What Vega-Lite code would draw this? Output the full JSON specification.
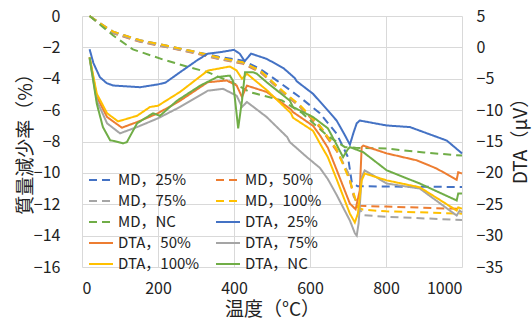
{
  "$schema": "https://vega.github.io/schema/vega-lite/v6.json",
  "width": 380,
  "height": 251,
  "autosize": {"type": "none"},
  "padding": {"left": 82, "top": 16, "right": 70, "bottom": 58},
  "config": {
    "font": "Noto Sans CJK JP",
    "view": {"stroke": null},
    "axis": {
      "gridColor": "#D9D9D9",
      "gridWidth": 1,
      "domain": false,
      "ticks": false,
      "tickSize": 0,
      "labelFontSize": 16,
      "labelColor": "#222",
      "titleFontSize": 19,
      "titleFontWeight": "normal",
      "titleColor": "#222"
    }
  },
  "datasets": {
    "md": [
      {"s": "MD，25%", "x": 20, "v": 0}, {"s": "MD，25%", "x": 50, "v": -0.5}, {"s": "MD，25%", "x": 82, "v": -1.0}, {"s": "MD，25%", "x": 153, "v": -1.55}, {"s": "MD，25%", "x": 224, "v": -1.9}, {"s": "MD，25%", "x": 302, "v": -2.3}, {"s": "MD，25%", "x": 360, "v": -2.6}, {"s": "MD，25%", "x": 424, "v": -2.85}, {"s": "MD，25%", "x": 468, "v": -3.36}, {"s": "MD，25%", "x": 512, "v": -4.1}, {"s": "MD，25%", "x": 573, "v": -5.17}, {"s": "MD，25%", "x": 626, "v": -6.2}, {"s": "MD，25%", "x": 670, "v": -7.5}, {"s": "MD，25%", "x": 700, "v": -9.0}, {"s": "MD，25%", "x": 710, "v": -10.6}, {"s": "MD，25%", "x": 725, "v": -10.85}, {"s": "MD，25%", "x": 800, "v": -10.87}, {"s": "MD，25%", "x": 1000, "v": -10.9},
      {"s": "MD，50%", "x": 20, "v": 0}, {"s": "MD，50%", "x": 50, "v": -0.55}, {"s": "MD，50%", "x": 82, "v": -1.1}, {"s": "MD，50%", "x": 153, "v": -1.65}, {"s": "MD，50%", "x": 224, "v": -2.0}, {"s": "MD，50%", "x": 302, "v": -2.4}, {"s": "MD，50%", "x": 360, "v": -2.75}, {"s": "MD，50%", "x": 424, "v": -3.05}, {"s": "MD，50%", "x": 470, "v": -3.6}, {"s": "MD，50%", "x": 529, "v": -4.9}, {"s": "MD，50%", "x": 574, "v": -5.8}, {"s": "MD，50%", "x": 626, "v": -7.1}, {"s": "MD，50%", "x": 670, "v": -8.6}, {"s": "MD，50%", "x": 700, "v": -10.0}, {"s": "MD，50%", "x": 715, "v": -11.5}, {"s": "MD，50%", "x": 730, "v": -12.1}, {"s": "MD，50%", "x": 800, "v": -12.15}, {"s": "MD，50%", "x": 1000, "v": -12.3},
      {"s": "MD，75%", "x": 20, "v": 0}, {"s": "MD，75%", "x": 50, "v": -0.55}, {"s": "MD，75%", "x": 82, "v": -1.08}, {"s": "MD，75%", "x": 153, "v": -1.62}, {"s": "MD，75%", "x": 224, "v": -1.98}, {"s": "MD，75%", "x": 302, "v": -2.37}, {"s": "MD，75%", "x": 360, "v": -2.72}, {"s": "MD，75%", "x": 424, "v": -3.0}, {"s": "MD，75%", "x": 470, "v": -3.55}, {"s": "MD，75%", "x": 529, "v": -4.85}, {"s": "MD，75%", "x": 574, "v": -5.75}, {"s": "MD，75%", "x": 626, "v": -7.0}, {"s": "MD，75%", "x": 670, "v": -8.5}, {"s": "MD，75%", "x": 700, "v": -10.0}, {"s": "MD，75%", "x": 720, "v": -11.8}, {"s": "MD，75%", "x": 740, "v": -12.7}, {"s": "MD，75%", "x": 800, "v": -12.8}, {"s": "MD，75%", "x": 1000, "v": -13.0},
      {"s": "MD，100%", "x": 20, "v": 0}, {"s": "MD，100%", "x": 50, "v": -0.5}, {"s": "MD，100%", "x": 82, "v": -1.0}, {"s": "MD，100%", "x": 153, "v": -1.55}, {"s": "MD，100%", "x": 224, "v": -1.9}, {"s": "MD，100%", "x": 302, "v": -2.3}, {"s": "MD，100%", "x": 360, "v": -2.65}, {"s": "MD，100%", "x": 424, "v": -2.95}, {"s": "MD，100%", "x": 470, "v": -3.5}, {"s": "MD，100%", "x": 529, "v": -4.8}, {"s": "MD，100%", "x": 574, "v": -5.7}, {"s": "MD，100%", "x": 626, "v": -7.0}, {"s": "MD，100%", "x": 670, "v": -8.5}, {"s": "MD，100%", "x": 705, "v": -10.5}, {"s": "MD，100%", "x": 726, "v": -12.2}, {"s": "MD，100%", "x": 740, "v": -12.35}, {"s": "MD，100%", "x": 800, "v": -12.45}, {"s": "MD，100%", "x": 1000, "v": -12.6},
      {"s": "MD，NC", "x": 20, "v": 0}, {"s": "MD，NC", "x": 50, "v": -0.6}, {"s": "MD，NC", "x": 82, "v": -1.24}, {"s": "MD，NC", "x": 134, "v": -2.13}, {"s": "MD，NC", "x": 213, "v": -2.77}, {"s": "MD，NC", "x": 284, "v": -3.28}, {"s": "MD，NC", "x": 331, "v": -3.58}, {"s": "MD，NC", "x": 400, "v": -4.3}, {"s": "MD，NC", "x": 442, "v": -4.85}, {"s": "MD，NC", "x": 526, "v": -5.38}, {"s": "MD，NC", "x": 580, "v": -6.2}, {"s": "MD，NC", "x": 644, "v": -7.6}, {"s": "MD，NC", "x": 692, "v": -8.36}, {"s": "MD，NC", "x": 720, "v": -8.4}, {"s": "MD，NC", "x": 802, "v": -8.45}, {"s": "MD，NC", "x": 900, "v": -8.7}, {"s": "MD，NC", "x": 1000, "v": -8.9}
    ],
    "dta": [
      {"s": "DTA，25%", "x": 20, "v": -0.3}, {"s": "DTA，25%", "x": 30, "v": -2.5}, {"s": "DTA，25%", "x": 47, "v": -4.75}, {"s": "DTA，25%", "x": 65, "v": -5.7}, {"s": "DTA，25%", "x": 82, "v": -6.08}, {"s": "DTA，25%", "x": 126, "v": -6.24}, {"s": "DTA，25%", "x": 153, "v": -6.35}, {"s": "DTA，25%", "x": 200, "v": -5.9}, {"s": "DTA，25%", "x": 220, "v": -5.6}, {"s": "DTA，25%", "x": 258, "v": -3.96}, {"s": "DTA，25%", "x": 302, "v": -2.1}, {"s": "DTA，25%", "x": 331, "v": -1.0}, {"s": "DTA，25%", "x": 363, "v": -0.77}, {"s": "DTA，25%", "x": 400, "v": -0.4}, {"s": "DTA，25%", "x": 415, "v": -1.0}, {"s": "DTA，25%", "x": 428, "v": -2.2}, {"s": "DTA，25%", "x": 445, "v": -1.0}, {"s": "DTA，25%", "x": 486, "v": -1.83}, {"s": "DTA，25%", "x": 530, "v": -3.3}, {"s": "DTA，25%", "x": 560, "v": -4.9}, {"s": "DTA，25%", "x": 565, "v": -5.4}, {"s": "DTA，25%", "x": 608, "v": -7.4}, {"s": "DTA，25%", "x": 647, "v": -10.06}, {"s": "DTA，25%", "x": 670, "v": -11.66}, {"s": "DTA，25%", "x": 690, "v": -13.8}, {"s": "DTA，25%", "x": 705, "v": -15.5}, {"s": "DTA，25%", "x": 715, "v": -13.5}, {"s": "DTA，25%", "x": 723, "v": -12.1}, {"s": "DTA，25%", "x": 731, "v": -11.66}, {"s": "DTA，25%", "x": 802, "v": -12.45}, {"s": "DTA，25%", "x": 863, "v": -12.7}, {"s": "DTA，25%", "x": 960, "v": -14.85}, {"s": "DTA，25%", "x": 1000, "v": -16.9},
      {"s": "DTA，50%", "x": 20, "v": -1.6}, {"s": "DTA，50%", "x": 39, "v": -7.9}, {"s": "DTA，50%", "x": 66, "v": -11.1}, {"s": "DTA，50%", "x": 105, "v": -12.8}, {"s": "DTA，50%", "x": 145, "v": -11.9}, {"s": "DTA，50%", "x": 200, "v": -10.5}, {"s": "DTA，50%", "x": 258, "v": -8.5}, {"s": "DTA，50%", "x": 331, "v": -5.55}, {"s": "DTA，50%", "x": 381, "v": -5.28}, {"s": "DTA，50%", "x": 407, "v": -6.08}, {"s": "DTA，50%", "x": 421, "v": -7.9}, {"s": "DTA，50%", "x": 434, "v": -6.1}, {"s": "DTA，50%", "x": 486, "v": -7.1}, {"s": "DTA，50%", "x": 550, "v": -9.9}, {"s": "DTA，50%", "x": 555, "v": -10.3}, {"s": "DTA，50%", "x": 608, "v": -12.5}, {"s": "DTA，50%", "x": 626, "v": -14.0}, {"s": "DTA，50%", "x": 647, "v": -16.0}, {"s": "DTA，50%", "x": 670, "v": -19.5}, {"s": "DTA，50%", "x": 705, "v": -24.9}, {"s": "DTA，50%", "x": 720, "v": -25.8}, {"s": "DTA，50%", "x": 731, "v": -22.8}, {"s": "DTA，50%", "x": 736, "v": -15.9}, {"s": "DTA，50%", "x": 740, "v": -15.65}, {"s": "DTA，50%", "x": 802, "v": -16.9}, {"s": "DTA，50%", "x": 881, "v": -18.0}, {"s": "DTA，50%", "x": 933, "v": -19.3}, {"s": "DTA，50%", "x": 986, "v": -21.1}, {"s": "DTA，50%", "x": 990, "v": -19.9}, {"s": "DTA，50%", "x": 1000, "v": -20.1},
      {"s": "DTA，75%", "x": 20, "v": -1.8}, {"s": "DTA，75%", "x": 39, "v": -8.5}, {"s": "DTA，75%", "x": 66, "v": -12.1}, {"s": "DTA，75%", "x": 100, "v": -13.7}, {"s": "DTA，75%", "x": 145, "v": -12.7}, {"s": "DTA，75%", "x": 200, "v": -11.3}, {"s": "DTA，75%", "x": 258, "v": -9.5}, {"s": "DTA，75%", "x": 331, "v": -6.9}, {"s": "DTA，75%", "x": 371, "v": -6.6}, {"s": "DTA，75%", "x": 407, "v": -7.7}, {"s": "DTA，75%", "x": 421, "v": -9.5}, {"s": "DTA，75%", "x": 434, "v": -8.7}, {"s": "DTA，75%", "x": 486, "v": -11.1}, {"s": "DTA，75%", "x": 540, "v": -14.3}, {"s": "DTA，75%", "x": 547, "v": -15.1}, {"s": "DTA，75%", "x": 592, "v": -17.5}, {"s": "DTA，75%", "x": 626, "v": -19.2}, {"s": "DTA，75%", "x": 647, "v": -21.0}, {"s": "DTA，75%", "x": 670, "v": -23.5}, {"s": "DTA，75%", "x": 705, "v": -27.6}, {"s": "DTA，75%", "x": 718, "v": -29.6}, {"s": "DTA，75%", "x": 723, "v": -30.0}, {"s": "DTA，75%", "x": 728, "v": -28.0}, {"s": "DTA，75%", "x": 736, "v": -20.7}, {"s": "DTA，75%", "x": 744, "v": -19.6}, {"s": "DTA，75%", "x": 802, "v": -21.7}, {"s": "DTA，75%", "x": 889, "v": -22.5}, {"s": "DTA，75%", "x": 986, "v": -26.8}, {"s": "DTA，75%", "x": 994, "v": -26.0}, {"s": "DTA，75%", "x": 1000, "v": -26.3},
      {"s": "DTA，100%", "x": 20, "v": -1.6}, {"s": "DTA，100%", "x": 39, "v": -7.4}, {"s": "DTA，100%", "x": 66, "v": -10.5}, {"s": "DTA，100%", "x": 95, "v": -11.8}, {"s": "DTA，100%", "x": 145, "v": -10.9}, {"s": "DTA，100%", "x": 179, "v": -9.5}, {"s": "DTA，100%", "x": 200, "v": -9.3}, {"s": "DTA，100%", "x": 258, "v": -7.1}, {"s": "DTA，100%", "x": 331, "v": -3.7}, {"s": "DTA，100%", "x": 389, "v": -3.05}, {"s": "DTA，100%", "x": 407, "v": -3.7}, {"s": "DTA，100%", "x": 421, "v": -5.0}, {"s": "DTA，100%", "x": 434, "v": -4.2}, {"s": "DTA，100%", "x": 486, "v": -6.8}, {"s": "DTA，100%", "x": 550, "v": -10.5}, {"s": "DTA，100%", "x": 555, "v": -11.2}, {"s": "DTA，100%", "x": 608, "v": -13.3}, {"s": "DTA，100%", "x": 626, "v": -15.3}, {"s": "DTA，100%", "x": 647, "v": -17.5}, {"s": "DTA，100%", "x": 670, "v": -21.0}, {"s": "DTA，100%", "x": 705, "v": -26.5}, {"s": "DTA，100%", "x": 718, "v": -27.9}, {"s": "DTA，100%", "x": 726, "v": -26.5}, {"s": "DTA，100%", "x": 736, "v": -21.2}, {"s": "DTA，100%", "x": 744, "v": -20.1}, {"s": "DTA，100%", "x": 802, "v": -21.2}, {"s": "DTA，100%", "x": 889, "v": -22.3}, {"s": "DTA，100%", "x": 986, "v": -26.0}, {"s": "DTA，100%", "x": 990, "v": -25.5}, {"s": "DTA，100%", "x": 1000, "v": -25.7},
      {"s": "DTA，NC", "x": 20, "v": -1.6}, {"s": "DTA，NC", "x": 39, "v": -9.0}, {"s": "DTA，NC", "x": 55, "v": -12.7}, {"s": "DTA，NC", "x": 74, "v": -14.8}, {"s": "DTA，NC", "x": 82, "v": -14.9}, {"s": "DTA，NC", "x": 108, "v": -15.3}, {"s": "DTA，NC", "x": 118, "v": -15.1}, {"s": "DTA，NC", "x": 145, "v": -12.1}, {"s": "DTA，NC", "x": 187, "v": -10.5}, {"s": "DTA，NC", "x": 205, "v": -10.9}, {"s": "DTA，NC", "x": 250, "v": -8.5}, {"s": "DTA，NC", "x": 311, "v": -6.1}, {"s": "DTA，NC", "x": 355, "v": -4.75}, {"s": "DTA，NC", "x": 389, "v": -4.5}, {"s": "DTA，NC", "x": 397, "v": -5.3}, {"s": "DTA，NC", "x": 404, "v": -9.0}, {"s": "DTA，NC", "x": 411, "v": -12.9}, {"s": "DTA，NC", "x": 421, "v": -8.5}, {"s": "DTA，NC", "x": 429, "v": -3.96}, {"s": "DTA，NC", "x": 450, "v": -3.96}, {"s": "DTA，NC", "x": 460, "v": -4.2}, {"s": "DTA，NC", "x": 486, "v": -5.55}, {"s": "DTA，NC", "x": 547, "v": -8.5}, {"s": "DTA，NC", "x": 555, "v": -9.5}, {"s": "DTA，NC", "x": 608, "v": -11.1}, {"s": "DTA，NC", "x": 647, "v": -12.9}, {"s": "DTA，NC", "x": 670, "v": -15.5}, {"s": "DTA，NC", "x": 687, "v": -17.5}, {"s": "DTA，NC", "x": 700, "v": -16.2}, {"s": "DTA，NC", "x": 705, "v": -15.9}, {"s": "DTA，NC", "x": 740, "v": -16.7}, {"s": "DTA，NC", "x": 802, "v": -19.6}, {"s": "DTA，NC", "x": 889, "v": -21.7}, {"s": "DTA，NC", "x": 986, "v": -24.4}, {"s": "DTA，NC", "x": 990, "v": -23.3}, {"s": "DTA，NC", "x": 1000, "v": -23.3}
    ]
  },
  "layer": [
    {
      "data": {"name": "md"},
      "mark": {"type": "line", "strokeWidth": 2},
      "encoding": {
        "x": {"field": "x", "type": "quantitative", "scale": {"domain": [0, 1000], "nice": false},
          "axis": {"values": [0, 200, 400, 600, 800, 1000], "format": "d", "grid": true, "labelPadding": 13, "title": "温度（°C）", "titleX": 190, "titleY": 42, "titleBaseline": "middle"}},
        "y": {"field": "v", "type": "quantitative", "scale": {"domain": [-16, 0], "nice": false, "zero": false},
          "axis": {"orient": "left", "values": [-16, -14, -12, -10, -8, -6, -4, -2, 0], "grid": true, "labelPadding": 22, "title": "質量減少率（%）", "titleAngle": -90, "titleX": -57, "titleY": 123, "titleBaseline": "middle", "titleAlign": "center"}},
        "color": {"field": "s", "type": "nominal",
          "scale": {"domain": ["MD，25%", "MD，75%", "MD，NC", "DTA，50%", "DTA，100%", "MD，50%", "MD，100%", "DTA，25%", "DTA，75%", "DTA，NC"],
            "range": ["#4472C4", "#A5A5A5", "#70AD47", "#ED7D31", "#FFC000", "#ED7D31", "#FFC000", "#4472C4", "#A5A5A5", "#70AD47"]},
          "legend": {"title": null, "orient": "none", "direction": "vertical", "legendX": 6, "legendY": 151, "columns": 2, "symbolType": "stroke", "symbolSize": 576, "symbolStrokeWidth": 2, "labelFontSize": 15, "labelColor": "#222", "rowPadding": 0, "columnPadding": 12, "labelOffset": 4, "padding": 0}},
        "strokeDash": {"field": "s", "type": "nominal",
          "scale": {"domain": ["MD，25%", "MD，75%", "MD，NC", "DTA，50%", "DTA，100%", "MD，50%", "MD，100%", "DTA，25%", "DTA，75%", "DTA，NC"],
            "range": [[8, 5], [8, 5], [8, 5], [1, 0], [1, 0], [8, 5], [8, 5], [1, 0], [1, 0], [1, 0]]},
          "legend": {"title": null, "orient": "none", "direction": "vertical", "legendX": 6, "legendY": 151, "columns": 2, "symbolType": "stroke", "symbolSize": 576, "symbolStrokeWidth": 2, "labelFontSize": 15, "labelColor": "#222", "rowPadding": 0, "columnPadding": 12, "labelOffset": 4, "padding": 0}}
      }
    },
    {
      "data": {"name": "dta"},
      "mark": {"type": "line", "strokeWidth": 2},
      "encoding": {
        "x": {"field": "x", "type": "quantitative"},
        "y": {"field": "v", "type": "quantitative", "scale": {"domain": [-35, 5], "nice": false, "zero": false},
          "axis": {"orient": "right", "values": [-35, -30, -25, -20, -15, -10, -5, 0, 5], "grid": false, "labelPadding": 14, "title": "DTA（μV）", "titleAngle": -90, "titleX": 58, "titleY": 120, "titleBaseline": "middle", "titleAlign": "center"}},
        "color": {"field": "s", "type": "nominal"},
        "strokeDash": {"field": "s", "type": "nominal"}
      }
    }
  ],
  "resolve": {"scale": {"y": "independent"}}
}
